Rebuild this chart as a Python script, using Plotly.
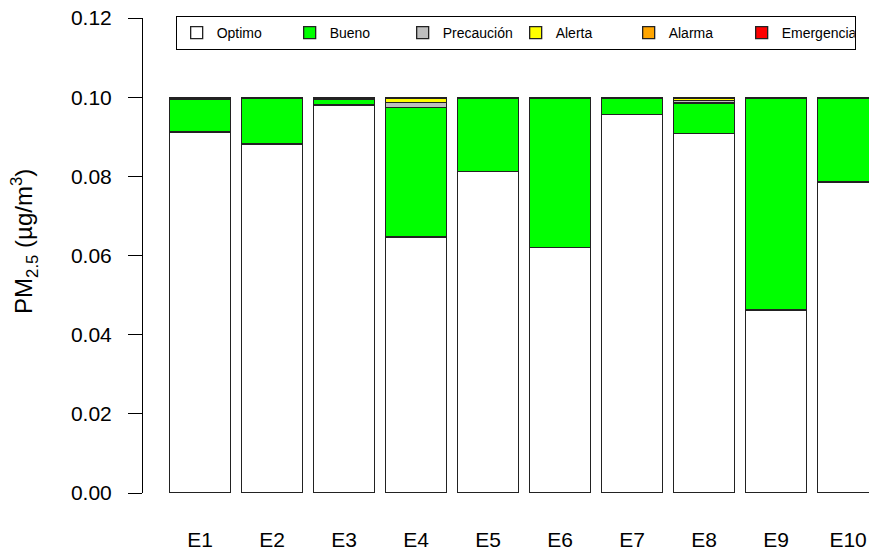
import plotly.graph_objects as go

estaciones = ["E1", "E2", "E3", "E4", "E5", "E6", "E7", "E8", "E9", "E10"]

optimo     = [0.0912, 0.0882, 0.0980, 0.0647, 0.0813, 0.0621, 0.0957, 0.0909, 0.0462, 0.0786]
bueno      = [0.0083, 0.0115, 0.0015, 0.0327, 0.0185, 0.0377, 0.0040, 0.0076, 0.0534, 0.0212]
precaucion = [0.0002, 0.0001, 0.0002, 0.0013, 0.0001, 0.0001, 0.0001, 0.0007, 0.0002, 0.0001]
alerta     = [0.0001, 0.0001, 0.0001, 0.0010, 0.0000, 0.0000, 0.0001, 0.0006, 0.0001, 0.0000]
alarma     = [0.0001, 0.0001, 0.0001, 0.0002, 0.0001, 0.0001, 0.0001, 0.0001, 0.0001, 0.0001]
emergencia = [0.0001, 0.0000, 0.0001, 0.0001, 0.0000, 0.0000, 0.0000, 0.0001, 0.0000, 0.0000]

series = [
    ("Optimo", optimo, "#FFFFFF"),
    ("Bueno", bueno, "#00FF00"),
    ("Precaución", precaucion, "#BEBEBE"),
    ("Alerta", alerta, "#FFFF00"),
    ("Alarma", alarma, "#FFA500"),
    ("Emergencia", emergencia, "#FF0000"),
]

FONT = "Liberation Sans, Arial, sans-serif"
pos = list(range(1, len(estaciones) + 1))

fig = go.Figure()
for name, vals, col in series:
    fig.add_trace(go.Bar(
        x=pos, y=vals, name=name, width=0.85,
        marker=dict(color=col, line=dict(color="#222222", width=1.3)),
    ))

fig.update_layout(
    barmode="stack",
    width=869, height=554,
    paper_bgcolor="white", plot_bgcolor="white",
    font=dict(family=FONT, color="black", size=21),
    margin=dict(l=143, r=0, t=18, b=61),
    showlegend=True,
    legend=dict(
        orientation="h", x=0.045, y=1.004, xanchor="left", yanchor="top",
        bordercolor="black", borderwidth=1, bgcolor="white",
        font=dict(size=14, family=FONT), entrywidth=68, entrywidthmode="pixels",
        traceorder="normal",
    ),
)

# y-axis label (placed as annotation, as in the R original)
fig.add_annotation(
    text="PM<sub>2.5</sub> (µg/m<sup>3</sup>)", textangle=-90,
    xref="paper", yref="paper", x=-0.163, y=0.53,
    xanchor="center", yanchor="middle", showarrow=False,
    font=dict(size=24, family=FONT, color="black"),
)

fig.update_xaxes(
    range=[0.208, 10.29], tickvals=pos, ticktext=estaciones,
    showline=False, showgrid=False, zeroline=False, ticks="",
    ticklabelstandoff=32, tickfont=dict(size=21),
)
fig.update_yaxes(
    range=[0, 0.12], tickvals=[0, 0.02, 0.04, 0.06, 0.08, 0.10, 0.12],
    tickformat=".2f", showline=True, linecolor="black", linewidth=1,
    ticks="outside", ticklen=14, tickcolor="black", tickwidth=1,
    ticklabelstandoff=12, showgrid=False, zeroline=False,
    tickfont=dict(size=21),
)

fig.write_html("out.html", config={"displayModeBar": False},
               post_script="document.body.style.margin='0';")
